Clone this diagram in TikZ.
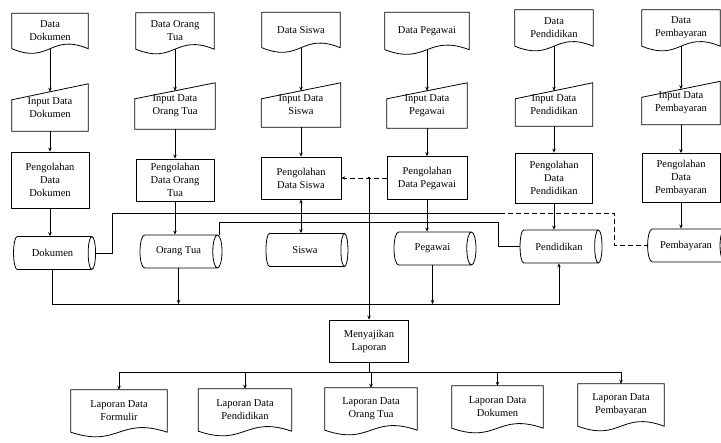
\documentclass[tikz,border=0pt]{standalone}
\usepackage{fontspec}
\setmainfont{Liberation Serif}
\usetikzlibrary{shapes.geometric,arrows.meta,calc}

% outline of a document symbol (wavy lower edge) around a named node
\newcommand\drawdoc[1]{\draw[outline] (#1.north west) -- (#1.north east) -- (#1.south east)
  .. controls ([yshift=16pt]#1.south) and ([yshift=-16pt]#1.south) .. (#1.south west) -- cycle;}
% outline of a manual-input symbol (slanted top edge) around a named node
\newcommand\drawinput[1]{\draw[outline] ([yshift=-16pt]#1.north west) -- (#1.north east)
  -- (#1.south east) -- (#1.south west) -- cycle;}

\begin{document}
\begin{tikzpicture}[x=1pt,y=-1pt,
  outline/.style={line width=0.8pt},
  txt/.style={font=\fontsize{10.5}{13}\selectfont, align=center, inner sep=0pt},
  docnode/.style={txt, minimum width=78, minimum height=35},
  innode/.style={txt, minimum width=79, minimum height=45},
  procnode/.style={txt, draw, outline, minimum width=79, minimum height=42},
  store/.style={txt, draw, outline, shape=cylinder, shape aspect=1.0,
    minimum width=33, minimum height=82},
  repnode/.style={txt, minimum width=92, minimum height=42},
  link/.style={line width=0.8pt},
  arr/.style={link, -{Stealth[length=4pt,width=3.5pt]}},
  dlink/.style={link, dash pattern=on 5pt off 3pt},
]
\useasboundingbox (0,0) rectangle (721,443);

% ---- source documents ----
\node[docnode, minimum width=76] (d1) at (50,31) {Data\\Dokumen};
\node[docnode, minimum height=36] (d2) at (175,31) {Data Orang\\Tua};
\node[docnode] (d3) at (301,30) {Data Siswa};
\node[docnode, minimum width=84, minimum height=37] (d4) at (427,31) {Data Pegawai};
\node[docnode, minimum height=36] (d5) at (554,28) {Data\\Pendidikan};
\node[docnode, minimum height=36] (d6) at (681,28) {Data\\Pembayaran};
\foreach \n in {d1,d2,d3,d4,d5,d6} {\drawdoc{\n}}

% ---- manual input ----
\node[innode, minimum width=76, minimum height=47] (i1) at (50,107.5) {Input Data\\Dokumen};
\node[innode, minimum width=80, minimum height=46] (i2) at (175,106) {Input Data\\Orang Tua};
\node[innode, minimum height=44] (i3) at (301,105) {Input Data\\Siswa};
\node[innode, minimum width=80] (i4) at (427,105.5) {Input Data\\Pegawai};
\node[innode, minimum width=77, minimum height=43] (i5) at (554,104.5) {Input Data\\Pendidikan};
\node[innode, minimum width=78, minimum height=43] (i6) at (681,103) {Input Data\\Pembayaran};
\foreach \n in {i1,i2,i3,i4,i5,i6} {\drawinput{\n}}

% ---- processing ----
\node[procnode, minimum width=78, minimum height=56] (p1) at (50,180) {Pengolahan\\Data\\Dokumen};
\node[procnode, minimum width=78] (p2) at (175,180) {Pengolahan\\Data Orang\\Tua};
\node[procnode, minimum width=80] (p3) at (301,178) {Pengolahan\\Data Siswa};
\node[procnode, minimum width=80, minimum height=43] (p4) at (427,178) {Pengolahan\\Data Pegawai};
\node[procnode, minimum width=77, minimum height=50] (p5) at (554,178) {Pengolahan\\Data\\Pendidikan};
\node[procnode, minimum width=78, minimum height=49] (p6) at (681,178) {Pengolahan\\Data\\Pembayaran};

% ---- data stores ----
\node[store] (c1) at (52.5,253) {Dokumen};
\node[store] (c2) at (178.5,251.5) {Orang Tua};
\node[store] (c3) at (305,250) {Siswa};
\node[store] (c4) at (432.5,248.5) {Pegawai};
\node[store] (c5) at (559,246.5) {Pendidikan};
\node[store] (c6) at (686,245.5) {Pembayaran};

% ---- report generation ----
\node[procnode, minimum width=79, minimum height=42] (m) at (369,341) {Menyajikan\\Laporan};

\node[repnode, minimum width=96] (r1) at (119,411) {Laporan Data\\Formulir};
\node[repnode, minimum width=93] (r2) at (245,410) {Laporan Data\\Pendidikan};
\node[repnode] (r3) at (371,409) {Laporan Data\\Orang Tua};
\node[repnode, minimum width=91] (r4) at (497.5,407) {Laporan Data\\Dokumen};
\node[repnode, minimum width=86] (r5) at (621,405) {Laporan Data\\Pembayaran};
\foreach \n in {r1,r2,r3,r4,r5} {\drawdoc{\n}}

% ---- column flows ----
\foreach \k in {1,...,6} {
  \draw[arr] (d\k.south) -- ($(i\k.north)+(0,8)$);
  \draw[arr] (i\k.south) -- (p\k.north);
}
\foreach \k in {1,2,4,5,6} {
  \draw[arr] (p\k.south) -- (p\k.south |- c\k.north);
}
\draw[link, {Stealth[length=4pt,width=3.5pt]}-{Stealth[length=4pt,width=3.5pt]}]
  (p3.south) -- (p3.south |- c3.north);

% ---- links between stores ----
\coordinate (brk) at (500,213);
\coordinate (turn) at (614,213);
\draw[link] (c1.east) -| (112,213) -- (brk);
\draw[dlink] (brk) -- (turn) |- (c6.west);

\coordinate (otup) at ($(c2.east |- c2.north)+(-3,0)$);
\draw[link] (otup) |- (498,222) |- (c5.west);

% collector line under the stores
\coordinate (collY) at (0,304);
\draw[arr] (c1.south) |- (c5.south |- collY) -- (c5.south);
\draw[arr] (c2.south) -- (c2.south |- collY);
\draw[arr] (c4.south) -- (c4.south |- collY);

% ---- link between Siswa and Pegawai processing, and to the report step ----
\coordinate (jn) at (369,178);
\draw[dlink, -{Stealth[length=4pt,width=3.5pt]}] (p4.west) -- (p3.east);
\fill (jn) circle (1.4);
\draw[arr] (jn) -- (jn |- m.north);

% ---- distribution to reports ----
\coordinate (distY) at (0,372);
\draw[link] (m.south) -- (m.south |- distY);
\draw[link] (r1.north |- distY) -- (r5.north |- distY);
\foreach \n in {r1,r2,r3,r4,r5} {
  \draw[arr] (\n.north |- distY) -- (\n.north);
}
\end{tikzpicture}
\end{document}
